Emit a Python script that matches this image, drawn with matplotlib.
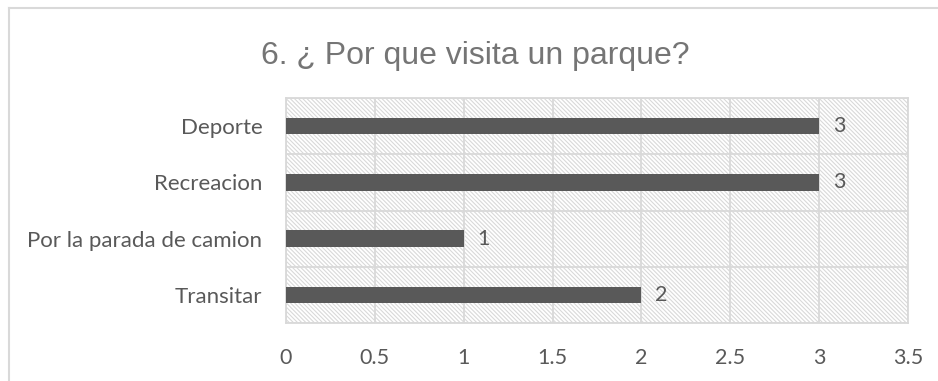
import matplotlib.pyplot as plt
from matplotlib.patches import Rectangle

categorias = ["Transitar", "Por la parada de camion", "Recreacion", "Deporte"]
valores = [2, 1, 3, 3]
ticks_x = [0, 0.5, 1, 1.5, 2, 2.5, 3, 3.5]
titulo = "6. ¿ Por que visita un parque?"

gris_texto = "#595959"
gris_titulo = "#757575"
gris_linea = "#d9d9d9"

plt.rcParams['font.family'] = ['Lato', 'DejaVu Sans']
plt.rcParams['hatch.color'] = gris_linea
plt.rcParams['hatch.linewidth'] = 0.8

fig = plt.figure(figsize=(9.38, 3.81), dpi=100, facecolor="#FFFFFF")
ax = fig.add_axes([286/938, 1-323/381, (908-286)/938, (323-98)/381])

# fondo rayado
ax.add_patch(Rectangle((0, 0), 1, 1, transform=ax.transAxes, facecolor="white",
                       edgecolor=gris_linea, hatch="\\" * 8, linewidth=0, zorder=0))

y = range(len(categorias))
barras = ax.barh(y, valores, height=0.29, color=gris_texto, zorder=3)
for b, v in zip(barras, valores):
    ax.annotate(str(v), (v, b.get_y() + b.get_height()/2), xytext=(10, 0),
                textcoords="offset points", va="center", ha="left",
                fontsize=15.5, color=gris_texto)

ax.set_xlim(0, 3.5)
ax.set_ylim(-0.5, len(categorias) - 0.5)
ax.set_xticks(ticks_x)
ax.set_xticklabels([f"{t:g}" for t in ticks_x])
ax.set_yticks(list(y))
ax.set_yticklabels(categorias)
ax.set_yticks([i - 0.5 for i in range(len(categorias) + 1)], minor=True)
ax.tick_params(axis="both", which="both", length=0, colors=gris_texto, labelsize=15.5)
ax.tick_params(axis="y", labelsize=16, pad=17)
ax.tick_params(axis="x", pad=18)
ax.grid(axis="x", which="major", color=gris_linea, linewidth=1.3, zorder=1)
ax.grid(axis="y", which="minor", color=gris_linea, linewidth=1.3, zorder=1)
for s in ax.spines.values():
    s.set_color(gris_linea)
    s.set_linewidth(1.3)

fig.text(475/938, 1-64/381, titulo, ha="center", va="baseline", fontsize=23,
         color=gris_titulo, family=["Liberation Sans", "DejaVu Sans"])

# borde exterior del grafico
fig.add_artist(plt.Line2D([9/938, 9/938], [0, 1-8/381], color=gris_linea, linewidth=1.5))
fig.add_artist(plt.Line2D([9/938, 1], [1-8/381, 1-8/381], color=gris_linea, linewidth=1.5))

fig.savefig("out.png", dpi=100, facecolor="#FFFFFF")
